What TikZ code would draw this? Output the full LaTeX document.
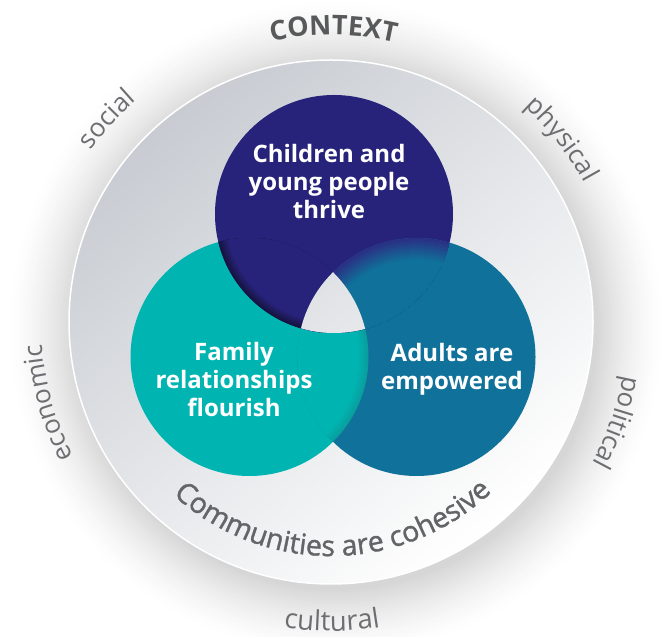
\documentclass[tikz,border=0pt]{standalone}
\usepackage{fontspec}
\setmainfont{Open Sans}
\newfontfamily\osmed[FakeBold=1.2]{Open Sans}
\usetikzlibrary{decorations.text}
\definecolor{navyc}{HTML}{27237A}
\definecolor{navydk}{HTML}{16133F}
\definecolor{tealc}{HTML}{00B5B1}
\definecolor{tealdk}{HTML}{0A9E9E}
\definecolor{bluec}{HTML}{10729A}
\definecolor{blueedge}{HTML}{2B2F84}
\definecolor{disctop}{HTML}{C8CCD2}
\definecolor{labgray}{HTML}{6D6E71}
\definecolor{ctxgray}{HTML}{58595B}
\definecolor{comgray}{HTML}{636467}
\newcommand\ArcCW[4]{%
  \pgfmathsetmacro\sa{#1+70}\pgfmathsetmacro\ea{#1-70}%
  \path[decorate,decoration={text along path,text align=center,text={|#3|#4}}]
    ([shift={(\sa:#2)}]D) arc[start angle=\sa,end angle=\ea,radius=#2];}
\newcommand\ArcCCW[4]{%
  \pgfmathsetmacro\sa{#1-70}\pgfmathsetmacro\ea{#1+70}%
  \path[decorate,decoration={text along path,text align=center,text={|#3|#4}}]
    ([shift={(\sa:#2)}]D) arc[start angle=\sa,end angle=\ea,radius=#2];}
\tikzset{
  circlabel/.style={text=white,font=\bfseries\fontsize{24}{28}\selectfont,align=center,inner sep=0pt,anchor=north},
  discshade/.style={top color=disctop,bottom color=white,shading angle=40}
}
\begin{document}
\begin{tikzpicture}[x=1pt,y=1pt]
\useasboundingbox (0,0) rectangle (672,637);
\fill[white] (0,0) rectangle (672,637);
\coordinate (D) at (331,315);
\coordinate (S) at (336,309);
\coordinate (N) at (334,423);
\coordinate (T) at (249.5,280);
\coordinate (R) at (416.5,280);
% outer ring with soft shadow
\foreach \i in {0,...,34}{%
  \pgfmathsetmacro\rr{330-2*\i}%
  \pgfmathsetmacro\pp{16*(\i/34)*sqrt(\i/34)}%
  \fill[black!\pp] (S) circle (\rr);}
% inner disc
\shade[discshade] (D) circle (262);
\draw[white,line width=1.5pt] (D) circle (262);
% three circles
\fill[tealc] (T) circle (119);
\fill[navyc] (N) circle (119);
\fill[bluec] (R) circle (119);
\begin{scope}
  \clip (R) circle (119);
  \foreach \i in {0,...,10}{%
    \pgfmathsetmacro\q{100*\i/10}%
    \fill[tealc!\q!tealdk] (T) circle ({119-\i});}
\end{scope}
\begin{scope}
  \clip (T) circle (119);
  \foreach \i in {0,...,10}{%
    \pgfmathsetmacro\q{100*\i/10}%
    \fill[navyc!\q!navydk] (N) circle ({119-\i});}
\end{scope}
\begin{scope}
  \clip (N) circle (119);
  \foreach \i in {0,...,22}{%
    \pgfmathsetmacro\q{100*\i/22}%
    \fill[bluec!\q!blueedge] (R) circle ({119-\i});}
\end{scope}
\begin{scope}
  \clip (N) circle (119);
  \clip (T) circle (119);
  \clip (R) circle (119);
  \shade[discshade] (D) circle (262);
\end{scope}
% circle labels
\node[circlabel] (kids) at (329,493) {Children and\\young people\\thrive};
\node[circlabel] (fam) at (234,295) {Family\\relationships\\flourish};
\node[circlabel] (adu) at (452,294) {Adults are\\empowered};
% curved texts
\ArcCW{89.5}{287}{\bfseries\fontsize{27}{29}\selectfont\color{ctxgray}}{CONTEXT}
\ArcCW{137.8}{295}{\fontsize{26}{28}\selectfont\color{labgray}}{social}
\ArcCW{38.4}{289}{\fontsize{26}{28}\selectfont\color{labgray}}{physical}
\ArcCW{196}{290}{\fontsize{26}{28}\selectfont\color{labgray}}{economic}
\ArcCW{340.6}{297}{\fontsize{26}{28}\selectfont\color{labgray}}{political}
\ArcCCW{270.2}{309}{\fontsize{27.5}{29}\selectfont\color{labgray}}{cultural}
\ArcCCW{270.5}{234}{\osmed\fontsize{28.5}{30}\selectfont\color{comgray}}{Communities are cohesive}
\end{tikzpicture}
\end{document}
